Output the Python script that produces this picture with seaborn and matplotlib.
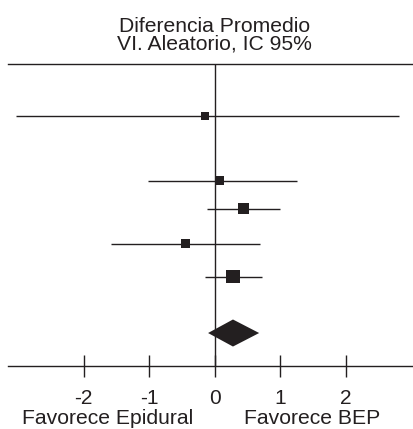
import matplotlib
matplotlib.use("Agg")
import matplotlib.pyplot as plt
import seaborn as sns
import pandas as pd

# ---- data ----
study_row = [1.0, 2.96, 3.81, 4.87, 5.87]
mean_diff = [-0.14, 0.08, 0.44, -0.44, 0.28]
ci_lower = [-3.03, -1.02, -0.12, -1.59, -0.14]
ci_upper = [2.82, 1.26, 1.00, 0.69, 0.73]
weight = [12, 15, 22, 16, 35]

pooled_row = 7.58
pooled_mean = 0.28
pooled_lower = -0.10
pooled_upper = 0.68

tick_values = [-2, -1, 0, 1, 2]
tick_labels = ["-2", "-1", "0", "1", "2"]
title_lines = ["Diferencia Promedio", "VI. Aleatorio, IC 95%"]
left_label = "Favorece Epidural"
right_label = "Favorece BEP"

df = pd.DataFrame({"row": study_row, "md": mean_diff, "lo": ci_lower,
                   "hi": ci_upper, "w": weight})

sns.set_theme(style="white")
plt.rcParams["font.family"] = ["Liberation Sans", "DejaVu Sans"]
plt.rcParams["axes.unicode_minus"] = False

ink = "#231f20"
W, H = 414, 429
fig = plt.figure(figsize=(W / 100, H / 100), dpi=100)
ax = fig.add_axes([8 / W, 1 - 366 / H, 1 - 8 / W, (366 - 63.7) / H])

ax.set_xlim(-3.156, 3.045)
ax.set_ylim(8.58, -0.585)

# zero line
ax.axvline(0, color=ink, lw=1.0, zorder=1)
# CIs
ax.hlines(df["row"], df["lo"], df["hi"], color=ink, lw=1.0, zorder=2)
# squares
sns.scatterplot(data=df, x="md", y="row", size="w", sizes=(33, 97),
                marker="s", color=ink, linewidth=0, legend=False, ax=ax, zorder=3)
# pooled diamond
hh = 0.41
ax.fill([pooled_lower, pooled_mean, pooled_upper, pooled_mean],
        [pooled_row, pooled_row - hh, pooled_row, pooled_row + hh],
        color=ink, lw=0, zorder=3)

for s in ["left", "right"]:
    ax.spines[s].set_visible(False)
for s in ["top", "bottom"]:
    ax.spines[s].set_visible(True)
    ax.spines[s].set_color(ink)
    ax.spines[s].set_linewidth(1.0)

ax.set_yticks([])
ax.set_xticks(tick_values)
ax.set_xticklabels(tick_labels)
ax.tick_params(axis="x", direction="inout", length=15.8, width=1.0, color=ink,
               labelsize=15, labelcolor=ink, pad=8.5, bottom=True, top=False)
ax.set_xlabel("")
ax.set_ylabel("")

cx = 214.7 / W
fig.text(cx, 1 - 32 / H, title_lines[0], ha="center", va="baseline",
         fontsize=15.2, color=ink)
fig.text(cx, 1 - 50 / H, title_lines[1], ha="center", va="baseline",
         fontsize=15.2, color=ink)
fig.text(108 / W, 1 - 424 / H, left_label, ha="center", va="baseline",
         fontsize=15.2, color=ink)
fig.text(312.2 / W, 1 - 424 / H, right_label, ha="center", va="baseline",
         fontsize=15.2, color=ink)

fig.savefig("out.png", dpi=100)
